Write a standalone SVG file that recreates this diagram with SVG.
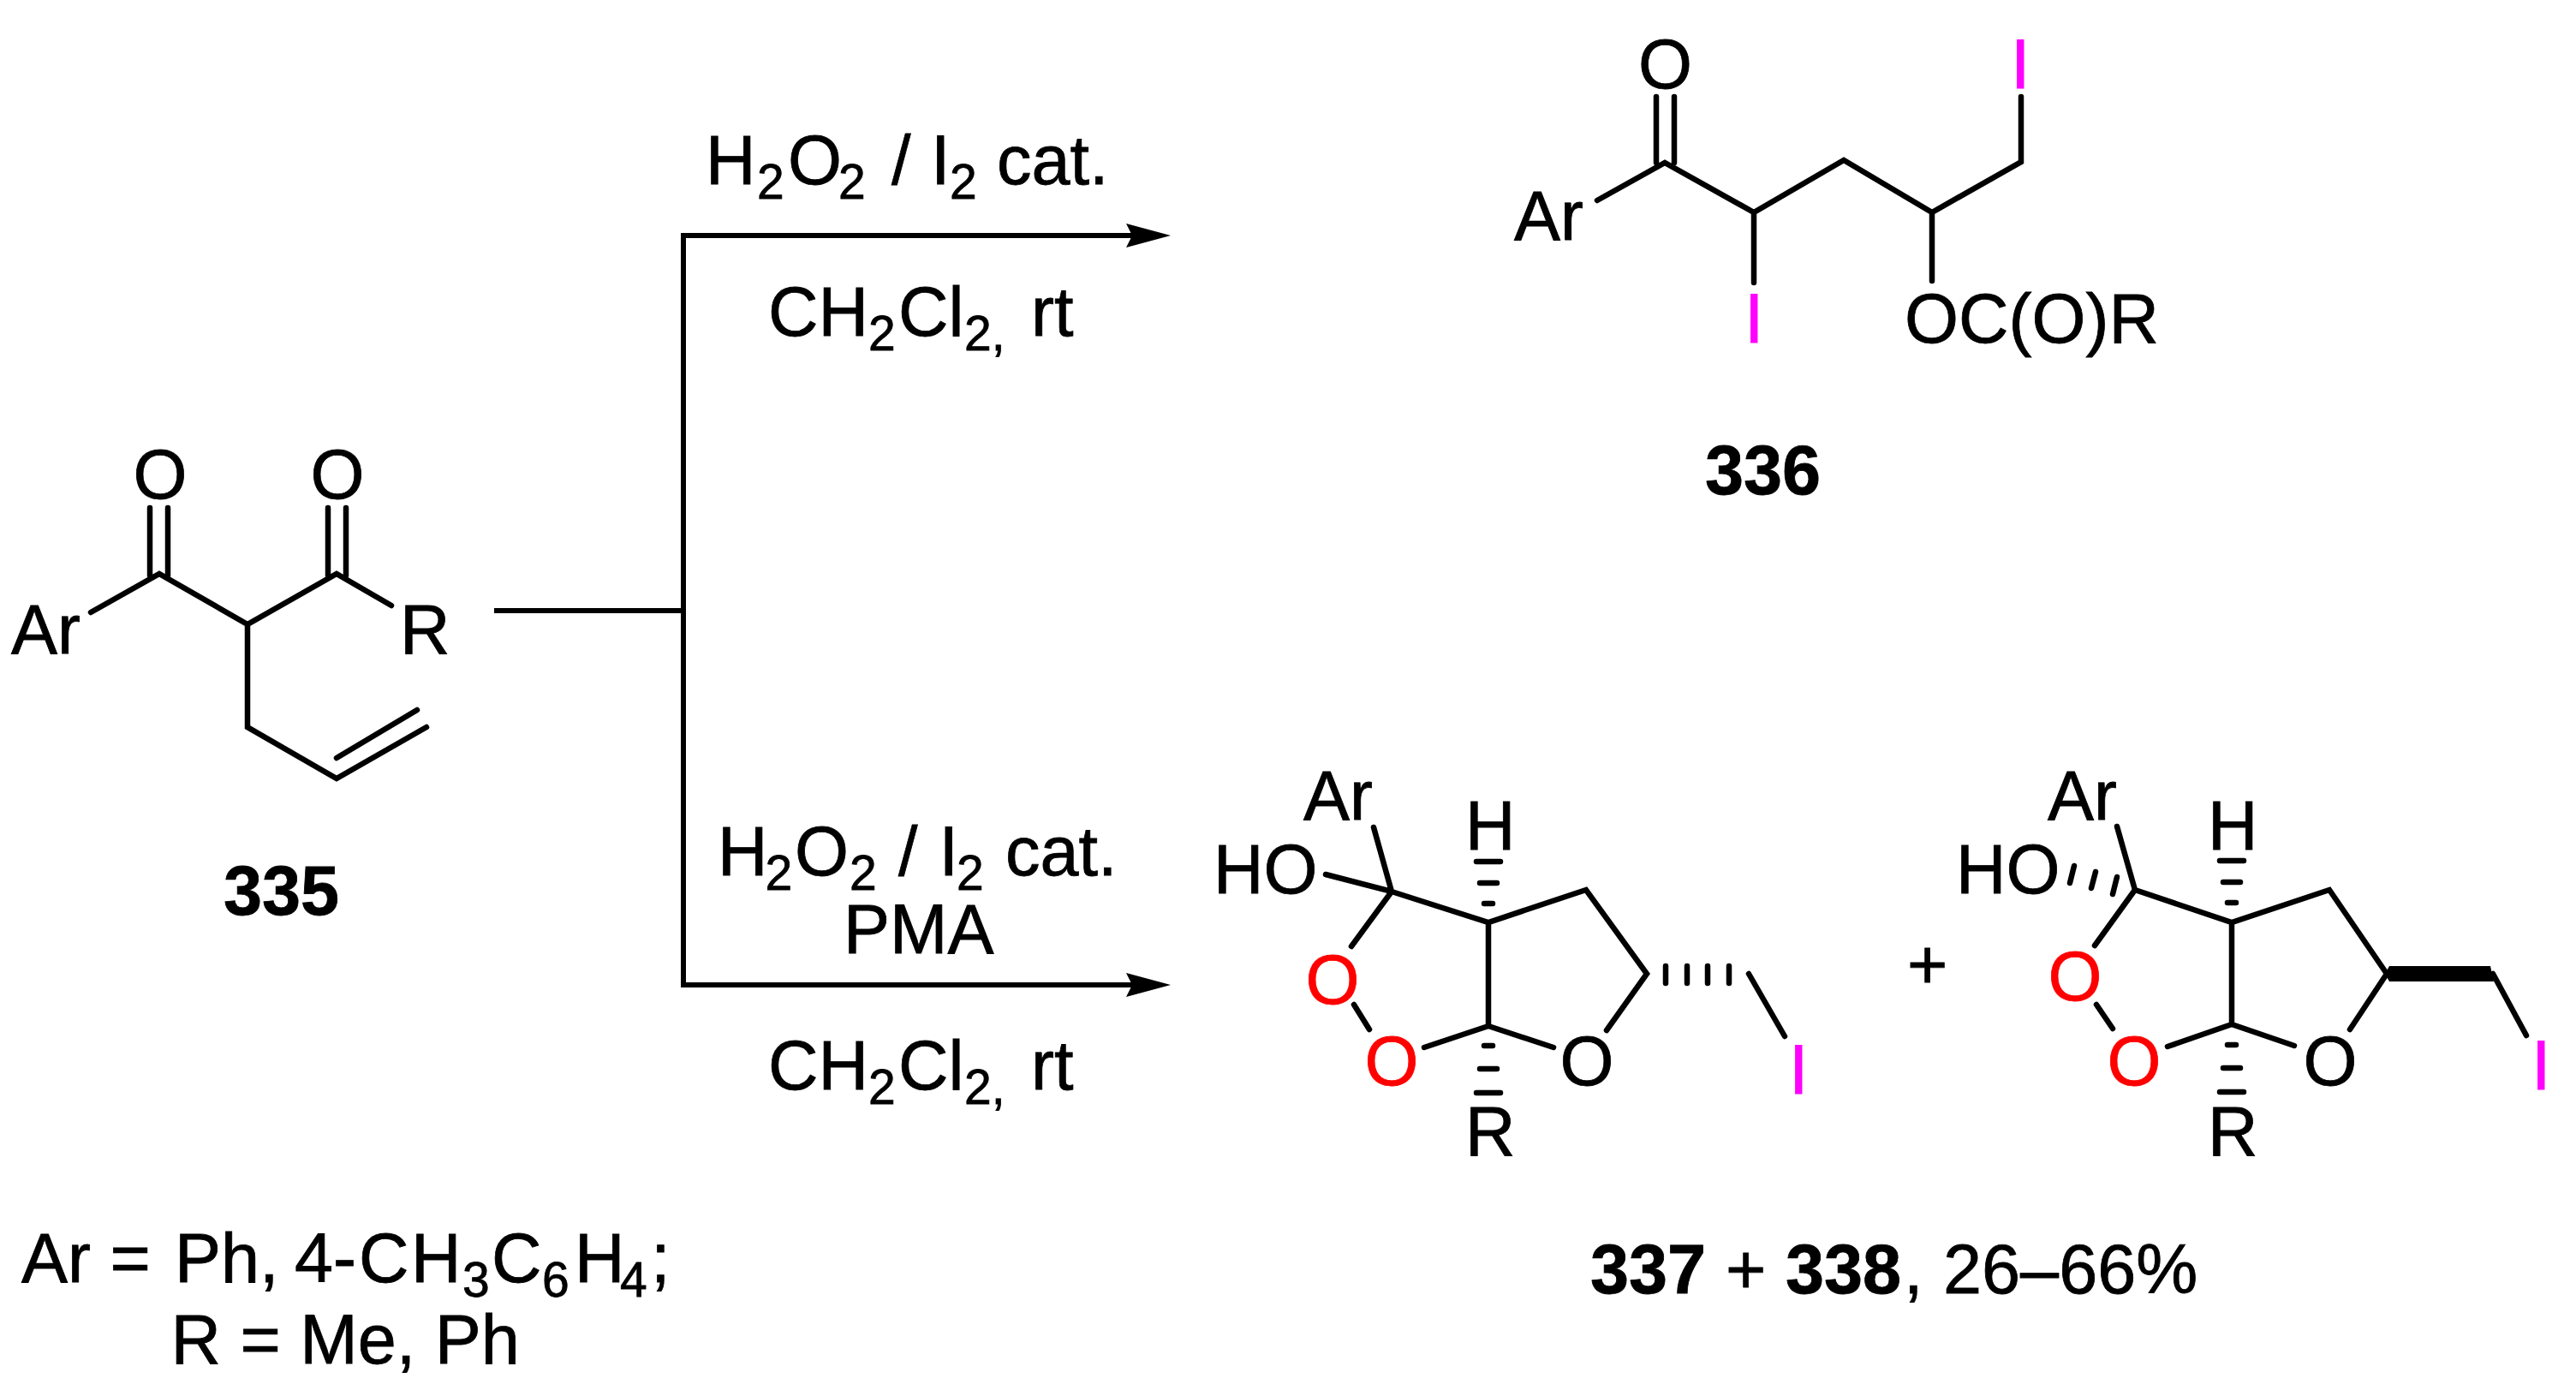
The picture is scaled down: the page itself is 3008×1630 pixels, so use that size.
<svg xmlns="http://www.w3.org/2000/svg" width="3008" height="1630" viewBox="0 0 3008 1630">
<style>
text{font-family:"Liberation Sans",Arial,sans-serif;font-size:81px;fill:#000;stroke:#000;stroke-width:.8}
.b{font-weight:bold}.m{fill:#f0f;stroke:#f0f}.r{fill:#f00;stroke:#f00}
.s{font-size:57px}
.bond{fill:none;stroke:#000;stroke-width:6.5;stroke-linecap:round;stroke-linejoin:miter}
.hash{fill:none;stroke:#000;stroke-width:6.5;stroke-linecap:round}
.rx{fill:none;stroke:#000;stroke-width:6}
</style>
<defs><marker id="ah" markerUnits="userSpaceOnUse" markerWidth="54" markerHeight="32" refX="7" refY="16" orient="auto"><path d="M0 2L52 16L0 30L7 16Z" fill="#000"/></marker></defs>
<rect width="3008" height="1630" fill="#fff"/>
<g id="connectors">
<path class="rx" d="M577 713H798"/>
<path class="rx" d="M798 275V1150"/>
<path class="rx" d="M795 275H1322" marker-end="url(#ah)"/>
<path class="rx" d="M795 1150H1322" marker-end="url(#ah)"/>
</g>
<g id="c335">
<path class="bond" d="M106 715L186 670L289 729L393 670L457 707M289 729V849L393 909L498 849M393 885L487 829M175 593V672M196 593V672M383 593V672M404 593V672"/>
<text x="13" y="763">Ar</text><text x="155.5" y="582">O</text><text x="362.5" y="582">O</text><text x="467" y="763">R</text>
<text class="b" x="261" y="1068">335</text>
</g>
<g id="conds1">
<text y="215"><tspan x="824">H</tspan><tspan class="s" x="884" dy="17">2</tspan><tspan x="920" dy="-17">O</tspan><tspan class="s" x="979" dy="17">2</tspan><tspan x="1041" dy="-17">/</tspan><tspan x="1087">I</tspan><tspan class="s" x="1109" dy="17">2</tspan><tspan x="1164" dy="-17">cat.</tspan></text>
<text y="392"><tspan x="897">CH</tspan><tspan class="s" x="1014" dy="17">2</tspan><tspan x="1049" dy="-17">Cl</tspan><tspan class="s" x="1126" dy="17">2,</tspan><tspan x="1204" dy="-17">rt</tspan></text>
</g>
<g id="c336">
<path class="bond" d="M1865 234L1944 190L2048 248L2153 187L2256 248L2360 189V113M2048 248V330M2256 248V328M1934 113V190M1955 113V190"/>
<text x="1768" y="280">Ar</text><text x="1913" y="103">O</text><text class="m" x="2348" y="103">I</text><text class="m" x="2037" y="400">I</text><text x="2224" y="400">OC(O)R</text>
<text class="b" x="1991" y="577">336</text>
</g>
<g id="conds2">
<text y="1022"><tspan x="838">H</tspan><tspan class="s" x="893.5" dy="17">2</tspan><tspan x="928" dy="-17">O</tspan><tspan class="s" x="992" dy="17">2</tspan><tspan x="1049" dy="-17">/</tspan><tspan x="1096.5">I</tspan><tspan class="s" x="1117" dy="17">2</tspan><tspan x="1174" dy="-17">cat.</tspan></text>
<text x="985" y="1113">PMA</text>
<text y="1272"><tspan x="897">CH</tspan><tspan class="s" x="1014" dy="17">2</tspan><tspan x="1049" dy="-17">Cl</tspan><tspan class="s" x="1126" dy="17">2,</tspan><tspan x="1204" dy="-17">rt</tspan></text>
</g>
<g id="c337">
<path class="bond" d="M1604 966L1625 1041L1548 1021M1625 1041L1578 1105M1625 1041L1738 1077L1852 1039L1923 1137L1876 1203M1738 1077V1198L1663 1223M1738 1198L1814 1223M1581 1173L1599 1202M2042 1137L2084 1210"/>
<path class="hash" d="M1724 1006H1752M1728 1031H1748M1733 1055H1743M1733 1221H1743M1728 1248H1748M1724 1276H1752M1945 1128V1148M1970 1128V1148M1994 1128V1148M2019 1128V1148"/>
<text x="1522" y="957">Ar</text><text x="1417" y="1043">HO</text><text x="1711" y="992">H</text><text class="r" x="1524.5" y="1172">O</text><text class="r" x="1593.5" y="1267">O</text><text x="1821.5" y="1267">O</text><text x="1711" y="1349">R</text><text class="m" x="2089" y="1277">I</text>
</g>
<text id="plus" x="2227" y="1154">+</text>
<g id="c338">
<path class="bond" d="M2472 965L2493 1039L2446 1104M2493 1039L2606 1077L2720 1039L2787 1137L2744 1202M2606 1077V1196L2531 1222M2606 1196L2679 1221M2448 1173L2467 1201M2911 1137L2950 1209"/>
<path class="hash" d="M2422 1011L2417 1031M2447 1018L2442 1037M2472 1024L2467 1044M2592 1005H2620M2596 1030H2616M2601 1054H2611M2601 1220H2611M2596 1247H2616M2592 1275H2620"/>
<path d="M2785 1137L2790 1128H2908L2912 1146H2790Z" fill="#000"/>
<text x="2391" y="957">Ar</text><text x="2284" y="1043">HO</text><text x="2578" y="992">H</text><text class="r" x="2391.5" y="1168">O</text><text class="r" x="2460.5" y="1267">O</text><text x="2689.5" y="1267">O</text><text x="2578" y="1349">R</text><text class="m" x="2956" y="1272">I</text>
</g>
<g id="caption1">
<text y="1497"><tspan x="25">Ar =</tspan><tspan x="204">Ph,</tspan><tspan x="344">4-</tspan><tspan x="419">C</tspan><tspan x="480">H</tspan><tspan class="s" x="540" dy="17">3</tspan><tspan x="574" dy="-17">C</tspan><tspan class="s" x="633" dy="17">6</tspan><tspan x="671" dy="-17">H</tspan><tspan class="s" x="724" dy="17">4</tspan><tspan x="760" dy="-17">;</tspan></text>
<text x="199.5" y="1592">R = Me, Ph</text>
</g>
<g id="caption2">
<text y="1510"><tspan class="b" x="1857">337</tspan><tspan x="2015">+</tspan><tspan class="b" x="2085">338</tspan><tspan x="2223">,</tspan><tspan x="2269">26–66%</tspan></text>
</g>
</svg>
